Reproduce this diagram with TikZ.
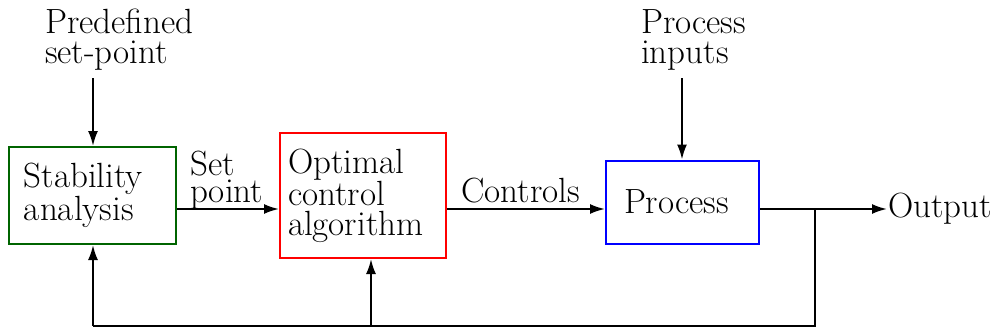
\documentclass[tikz,border=0pt]{standalone}
\usetikzlibrary{arrows.meta}
\begin{document}
\begin{tikzpicture}[x=1pt,y=-1pt,
  every node/.style={font=\fontsize{35}{30}\selectfont},
  blockbox/.style={draw, line width=2pt, align=left, inner xsep=0pt, inner ysep=0pt},
  txt/.style={inner sep=0pt, align=left, anchor=base west},
  flow/.style={line width=2pt, -{Latex[length=15pt,width=10pt]}},
  wire/.style={line width=2pt}]
\useasboundingbox (0,0) rectangle (998,333);

% blocks
\node[blockbox, draw={rgb,255:red,0;green,100;blue,0}, minimum width=167pt, minimum height=97pt,
      text width=167pt] (stab) at (92.5,195.5)
      {\hspace*{15pt}Stability\\\hspace*{15pt}analysis};
\node[blockbox, draw=red, minimum width=166pt, minimum height=125pt,
      text width=166pt] (opt) at (363,195.5)
      {\hspace*{8pt}Optimal\\\hspace*{8pt}control\\\hspace*{8pt}algorithm};
\node[blockbox, draw=blue, minimum width=153pt, minimum height=83pt,
      text width=153pt] (proc) at (682.5,202)
      {\hspace*{18pt}Process};

% free labels (base anchor sits on the last line)
\node[txt] (pre) at (45,63) {Predefined\\set-point};
\node[txt] (pin) at (641,63) {Process\\inputs};
\node[txt, font=\fontsize{35}{27}\selectfont] (sp) at (190,202) {Set\\point};
\node[txt] (ctl) at (461,202) {Controls};
\node[txt] (out) at (888,217) {Output};

% helper points
\coordinate (row) at (0,209);
\coordinate (pretail) at (93,78);
\coordinate (pintail) at (682,78);
\coordinate (fbtop) at (815,209);
\coordinate (fbleft) at (93,326);
\coordinate (fbmid) at (371,326);

% forward path
\draw[flow] (pretail) -- (stab.north -| pretail);
\draw[flow] (pintail) -- (proc.north -| pintail);
\draw[flow] (stab.east |- row) -- (opt.west |- row);
\draw[flow] (opt.east |- row) -- (proc.west |- row);
\draw[flow] (proc.east |- row) -- ([xshift=-1pt]out.west |- row);

% feedback path
\draw[wire] (fbtop) |- (fbleft);
\draw[flow] (fbleft) -- (stab.south -| fbleft);
\draw[flow] (fbmid) -- (opt.south -| fbmid);
\end{tikzpicture}
\end{document}
